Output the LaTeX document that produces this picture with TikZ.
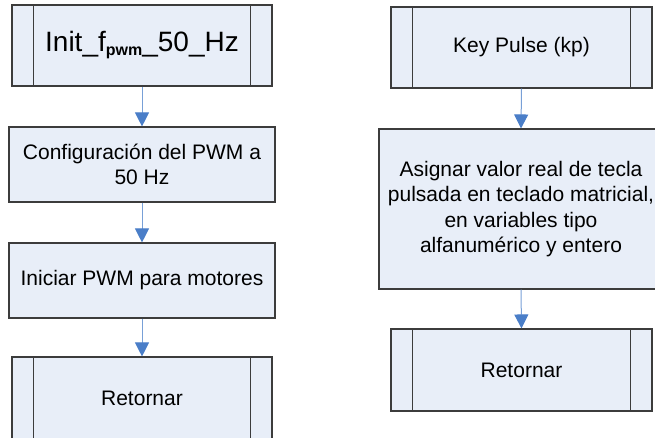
\documentclass[tikz,border=0pt]{standalone}
\usepackage{fontspec}
\setmainfont{Liberation Sans}
\usetikzlibrary{arrows.meta,calc}
\definecolor{boxfill}{RGB}{232,238,248}
\definecolor{boxdraw}{RGB}{60,60,60}
\definecolor{arrline}{RGB}{120,160,215}
\definecolor{arrhead}{RGB}{74,126,200}
\tikzset{
  x=1pt, y=1pt,
  procbox/.style={draw=boxdraw, fill=boxfill, line width=1.1pt, inner sep=0pt,
    align=center, font=\fontsize{21}{25.5}\selectfont},
  flowarrow/.style={draw=arrline, line width=1pt,
    -{Triangle[length=14pt,width=14pt,color=arrhead]}},
  innerline/.style={draw=boxdraw, line width=1.1pt}
}
\begin{document}
\begin{tikzpicture}
\useasboundingbox (0,0) rectangle (655,438);
\clip (0,0) rectangle (655,438);
% left column
\node[procbox, minimum width=260pt, minimum height=81pt] (a1) at (142,392.5)
  {\fontsize{28}{30}\selectfont Init\_f{\fontsize{16}{16}\selectfont\bfseries\raisebox{-4pt}{pwm}}\_50\_Hz};
\node[procbox, minimum width=266pt, minimum height=75pt] (a2) at (142,273.5)
  {Configuración del PWM a\\50 Hz};
\node[procbox, minimum width=266pt, minimum height=75pt] (a3) at (142,157.5)
  {Iniciar PWM para motores};
\node[procbox, minimum width=260pt, minimum height=82pt] (a4) at (142,40)
  {Retornar};
% right column
\node[procbox, minimum width=261pt, minimum height=81pt] (b1) at (521.5,390.5)
  {Key Pulse (kp)};
\node[procbox, minimum width=284pt, minimum height=160pt] (b2) at (521,229)
  {Asignar valor real de tecla\\pulsada en teclado matricial,\\en variables tipo\\alfanumérico y entero};
\node[procbox, minimum width=261pt, minimum height=82pt] (b3) at (521.5,68)
  {Retornar};
% predefined-process side bars
\foreach \n in {a1,a4,b1,b3}{
  \draw[innerline] ($(\n.north west)+(22,0)$) -- ($(\n.south west)+(22,0)$);
  \draw[innerline] ($(\n.north east)+(-22,0)$) -- ($(\n.south east)+(-22,0)$);
}
% connectors
\draw[flowarrow] (a1.south) -- (a2.north);
\draw[flowarrow] (a2.south) -- (a3.north);
\draw[flowarrow] (a3.south) -- (a4.north);
\draw[flowarrow] (b1.south) -- (b2.north);
\draw[flowarrow] (b2.south) -- (b3.north);
\end{tikzpicture}
\end{document}
